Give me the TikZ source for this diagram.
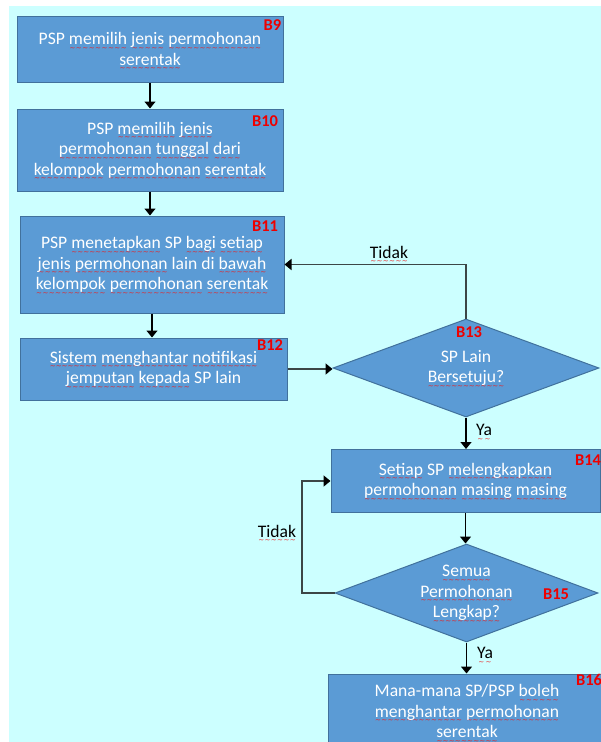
\documentclass[tikz,border=0pt]{standalone}
\usepackage{fontspec}
\setmainfont{Carlito}
\newfontfamily\wavefont{DejaVu Sans}
\usetikzlibrary{shapes.geometric,arrows.meta}
\definecolor{bgc}{RGB}{204,255,255}
\definecolor{boxfill}{RGB}{91,155,213}
\definecolor{boxline}{RGB}{65,113,156}
\definecolor{lab}{RGB}{238,0,0}
\definecolor{conn}{RGB}{60,70,70}
\definecolor{wavec}{RGB}{235,30,30}
\newcommand\sq[1]{\leavevmode\setbox0=\hbox{#1}\rlap{\raisebox{-5.6pt}[0pt][0pt]{\color{wavec}\wavefont\fontsize{7}{7}\selectfont\hbox to \wd0{\xleaders\hbox{\char"223C}\hfil}}}\box0\relax}
\newcommand\fs{\fontsize{17.6}{20.5}\selectfont}
\newcommand\fsb{\fontsize{16.5}{16.5}\selectfont\bfseries}
\begin{document}
\begin{tikzpicture}[x=1pt,y=-1pt,
  stepbox/.style={draw=boxline, line width=1pt, fill=boxfill, text=white, align=center, font=\fs, inner sep=0pt},
  decision/.style={diamond, draw=boxline, line width=1pt, fill=boxfill, text=white, align=center, font=\fs, inner sep=0pt, aspect=2.7},
  tag/.style={text=lab, font=\fsb, inner sep=0pt},
  note/.style={text=black, font=\fs, inner sep=0pt},
  arr/.style={line width=1.3pt, black, -{Triangle[width=11pt,length=7pt]}},
  loopc/.style={line width=1.8pt, conn, -{Triangle[width=11pt,length=7pt,color=black]}}]
\useasboundingbox (0,0) rectangle (601,742);
\clip (0,0) rectangle (601,742);
\fill[bgc] (9,6) rectangle (601,742);

\node[stepbox, minimum width=266pt, minimum height=66pt] (b9) at (150,49)
  {PSP \sq{memilih} \sq{jenis} \sq{permohonan}\\ \sq{serentak}};
\node[stepbox, minimum width=266pt, minimum height=82pt] (b10) at (150,150)
  {PSP \sq{memilih} \sq{jenis}\\ \sq{permohonan} \sq{tunggal} \sq{dari}\\ \sq{kelompok} \sq{permohonan} \sq{serentak}};
\node[stepbox, minimum width=264pt, minimum height=97pt] (b11) at (152,264.5)
  {PSP \sq{menetapkan} SP \sq{bagi} \sq{setiap}\\ \sq{jenis} \sq{permohonan} lain di \sq{bawah}\\ \sq{kelompok} \sq{permohonan} \sq{serentak}};
\node[stepbox, minimum width=267pt, minimum height=62pt] (b12) at (153.5,369)
  {\sq{Sistem} \sq{menghantar} \sq{notifikasi}\\ \sq{jemputan} \sq{kepada} SP lain};
\node[decision, minimum width=266pt, minimum height=98pt] (b13) at (466,368)
  {SP Lain\\ \sq{Bersetuju?}};
\node[stepbox, minimum width=269pt, minimum height=63pt] (b14) at (465.5,481)
  {\sq{Setiap} SP \sq{melengkapkan}\\ \sq{permohonan} \sq{masing} \sq{masing}};
\node[decision, minimum width=263pt, minimum height=98pt] (b15) at (466.5,593)
  {\sq{Semua}\\ \sq{Permohonan}\\ \sq{Lengkap?}};
\node[stepbox, minimum width=278pt, minimum height=74pt] (b16) at (467,711)
  {Mana-mana SP/PSP \sq{boleh}\\ \sq{menghantar} \sq{permohonan}\\ \sq{serentak}};

\node[tag] (t9) at (272.5,25.5) {B9};
\node[tag] (t10) at (265,121) {B10};
\node[tag] (t11) at (265,226.5) {B11};
\node[tag] (t12) at (270,345) {B12};
\node[tag] (t13) at (469,332) {B13};
\node[tag] (t14) at (588,460) {B14};
\node[tag] (t15) at (556,594) {B15};
\node[tag] (t16) at (589,680) {B16};

\coordinate (lp) at (302,0);
\draw[arr] (b9) -- (b10);
\draw[arr] (b10.south) -- (b10.south |- b11.north);
\draw[arr] (b11.south) -- (b11.south |- b12.north);
\draw[loopc] (b12.east) -- (b12.east -| b13.west);
\draw[loopc] (b13.north) |- (b11.east);
\draw[arr] (b13.south) -- (b13.south |- b14.north);
\draw[arr] (b14.south) -- (b14.south |- b15.north);
\draw[loopc] (b15.west) -- (b15.west -| lp) |- (b14.west);
\draw[arr] (b15.south) -- (b15.south |- b16.north);

\node[note] (n1) at (389,252) {\sq{Tidak}};
\node[note] (n2) at (484,430) {\sq{Ya}};
\node[note] (n3) at (277,531) {\sq{Tidak}};
\node[note] (n4) at (485,653) {\sq{Ya}};
\end{tikzpicture}
\end{document}
